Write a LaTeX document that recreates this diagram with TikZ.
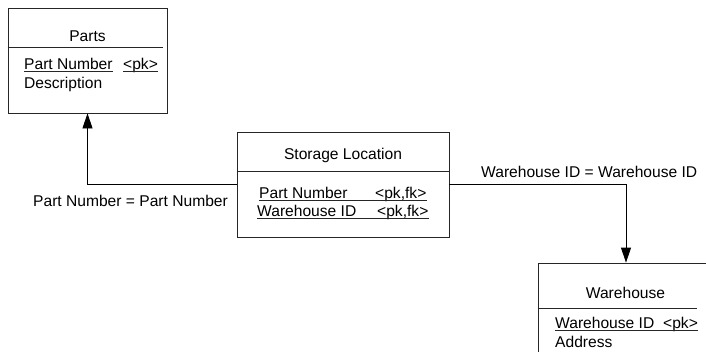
\documentclass[tikz,border=0pt]{standalone}
\usepackage{fontspec}
\setmainfont{Liberation Sans}
\usetikzlibrary{arrows.meta}
\begin{document}
\begin{tikzpicture}[x=1pt,y=-1pt,
  ent/.style={draw=black!85, line width=0.8pt, minimum width=#1, minimum height=105pt, inner sep=0pt},
  txt/.style={anchor=base west, inner sep=0pt, font=\fontsize{15.6}{18}\selectfont},
  ttl/.style={anchor=base, inner sep=0pt, font=\fontsize{15.6}{18}\selectfont},
  ln/.style={draw=black!85, line width=0.8pt},
  ul/.style={draw=black!85, line width=0.7pt},
  rel/.style={draw=black, line width=0.8pt, -{Triangle[length=15pt,width=10pt]}}]
\useasboundingbox (0,0) rectangle (706,351);
\clip (0,0) rectangle (706,351);
% entities
\node[ent=159pt] (parts) at (87.5,60.5) {};
\node[ent=212pt] (sl) at (343,184.5) {};
\node[ent=176pt] (wh) at (626,315.5) {};
% dividers
\draw[ln] (parts.west |- 0,47) -- (163,47);
\draw[ln] (sl.west |- 0,171) -- (sl.east |- 0,171);
\draw[ln] (wh.west |- 0,308) -- (697,308);
% titles
\node[ttl] (tparts) at (87.5,41) {Parts};
\node[ttl] (tsl) at (343,159) {Storage Location};
\node[ttl] (twh) at (625.5,298.5) {Warehouse};
% Parts attributes
\node[txt] (p1) at (24,69) {Part Number};
\node[txt] (p1k) at (123,69) {<pk>};
\node[txt] (p2) at (24,88) {Description};
\draw[ul] (24,71.5) -- (p1.east |- 0,71.5);
\draw[ul] (123,71.5) -- (p1k.east |- 0,71.5);
% Storage attributes
\node[txt] (s1) at (259,198) {Part Number};
\node[txt] (s1k) at (375,198) {<pk,fk>};
\node[txt] (s2) at (257,216) {Warehouse ID};
\node[txt] (s2k) at (377,216) {<pk,fk>};
\draw[ul] (259,200.5) -- (s1k.east |- 0,200.5);
\draw[ul] (257,218.5) -- (s2k.east |- 0,218.5);
% Warehouse attributes
\node[txt] (w1) at (555,328) {Warehouse ID};
\node[txt] (w1k) at (663,328) {<pk>};
\node[txt] (w2) at (555,347) {Address};
\draw[ul] (555,330.5) -- (w1k.east |- 0,330.5);
% relationships
\draw[rel] (sl.west) -| (parts.south);
\draw[rel] (sl.east) -| (wh.north);
\node[txt] (l1) at (33,206) {Part Number = Part Number};
\node[txt] (l2) at (481,177) {Warehouse ID = Warehouse ID};
\end{tikzpicture}
\end{document}
